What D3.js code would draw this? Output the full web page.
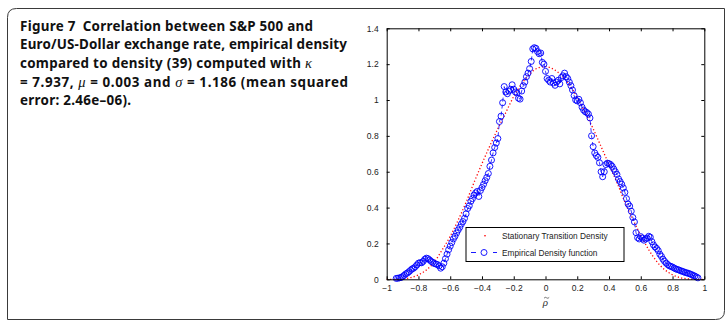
<!DOCTYPE html>
<html>
<head>
<meta charset="utf-8">
<script src="https://cdn.jsdelivr.net/npm/d3@7"></script>
<style>
  html, body { margin: 0; padding: 0; background: #fff; }
  svg { display: block; }
  .caption { font-family: "Noto Sans", sans-serif; font-weight: 700; font-size: 13.4px; fill: #111; }
  .greek { font-family: "Liberation Serif", serif; font-style: italic; font-weight: 400; }
  .axis text { font-family: "Liberation Sans", Arial, sans-serif; font-size: 8.5px; fill: #222; }
  .axis path, .axis line { stroke: #000; stroke-width: 1; }
  .legend text { font-family: "Liberation Sans", Arial, sans-serif; font-size: 8.3px; fill: #222; }
</style>
</head>
<body>
<svg id="chart" width="727" height="326"></svg>
<script>
// caption lines, each with the width it takes in the figure
const captionLines = [
  [['Figure 7\u2002Correlation between S&P 500 and', false]],
  [['Euro/US-Dollar exchange rate, empirical density', false]],
  [['compared to density (39) computed with ', false], ['\u03ba', true]],
  [['= 7.937, ', false], ['\u03bc', true], [' = 0.003 and ', false], ['\u03c3', true], [' = 1.186 (mean squared', false]],
  [['error: 2.46e\u201306).', false]],
]
const captionWidths = [293, 327, 292, 328, 111]

const xTicks = [-1, -0.8, -0.6, -0.4, -0.2, 0, 0.2, 0.4, 0.6, 0.8, 1]
const xTickLabels = ['\u22121', '\u22120.8', '\u22120.6', '\u22120.4', '\u22120.2', '0', '0.2', '0.4', '0.6', '0.8', '1']
const yTicks = [0, 0.2, 0.4, 0.6, 0.8, 1, 1.2, 1.4]
const yTickLabels = ['0', '0.2', '0.4', '0.6', '0.8', '1', '1.2', '1.4']

const legendLabels = ['Stationary Transition Density', 'Empirical Density function']

// fitted density (39)
const fitRho = [
  -1, -0.95, -0.9, -0.85, -0.8, -0.75, -0.7, -0.65, -0.6, -0.55, -0.5,
  -0.45, -0.4, -0.35, -0.3, -0.25, -0.2, -0.15, -0.1, -0.05, 0,
  0.05, 0.1, 0.15, 0.2, 0.25, 0.3, 0.35, 0.4, 0.45, 0.5,
  0.55, 0.6, 0.65, 0.7, 0.75, 0.8, 0.85, 0.9, 0.95, 1,
]
const fitDensity = [
  0, 0, 0.002, 0.009, 0.025, 0.052, 0.097, 0.165, 0.24, 0.33, 0.43,
  0.54, 0.645, 0.745, 0.84, 0.93, 1.02, 1.09, 1.145, 1.178, 1.186,
  1.172, 1.138, 1.085, 1.015, 0.93, 0.84, 0.74, 0.64, 0.54, 0.43,
  0.335, 0.245, 0.165, 0.1, 0.054, 0.025, 0.009, 0.002, 0, 0,
]

// empirical density
const empRho = [
  -0.94, -0.93, -0.92, -0.91, -0.90, -0.89, -0.88, -0.87, -0.86, -0.85,
  -0.84, -0.83, -0.82, -0.81, -0.80, -0.79, -0.78, -0.77, -0.76, -0.75,
  -0.74, -0.73, -0.72, -0.71, -0.70, -0.69, -0.68, -0.67, -0.66, -0.65,
  -0.64, -0.63, -0.62, -0.61, -0.60, -0.59, -0.58, -0.57, -0.56, -0.55,
  -0.54, -0.53, -0.52, -0.51, -0.50, -0.49, -0.48, -0.47, -0.46, -0.45,
  -0.44, -0.43, -0.42, -0.41, -0.40, -0.39, -0.38, -0.37, -0.36, -0.35,
  -0.34, -0.33, -0.32, -0.31, -0.30, -0.29, -0.28, -0.27, -0.26, -0.25,
  -0.24, -0.23, -0.22, -0.21, -0.20, -0.19, -0.18, -0.17, -0.16, -0.15,
  -0.14, -0.13, -0.12, -0.11, -0.10, -0.09, -0.08, -0.07, -0.06, -0.05,
  -0.04, -0.03, -0.02, -0.01, 0.00, 0.01, 0.02, 0.03, 0.04, 0.05,
  0.06, 0.07, 0.08, 0.09, 0.10, 0.11, 0.12, 0.13, 0.14, 0.15,
  0.16, 0.17, 0.18, 0.19, 0.20, 0.21, 0.22, 0.23, 0.24, 0.25,
  0.26, 0.27, 0.28, 0.29, 0.30, 0.31, 0.32, 0.33, 0.34, 0.35,
  0.36, 0.37, 0.38, 0.39, 0.40, 0.41, 0.42, 0.43, 0.44, 0.45,
  0.46, 0.47, 0.48, 0.49, 0.50, 0.51, 0.52, 0.53, 0.54, 0.55,
  0.56, 0.57, 0.58, 0.59, 0.60, 0.61, 0.62, 0.63, 0.64, 0.65,
  0.66, 0.67, 0.68, 0.69, 0.70, 0.71, 0.72, 0.73, 0.74, 0.75,
  0.76, 0.77, 0.78, 0.79, 0.80, 0.81, 0.82, 0.83, 0.84, 0.85,
  0.86, 0.87, 0.88, 0.89, 0.90, 0.91, 0.92, 0.93, 0.94, 0.95,
  0.96,
]
const empDensity = [
  0.005, 0.006, 0.008, 0.010, 0.015, 0.022, 0.030, 0.035, 0.042, 0.050,
  0.058, 0.062, 0.070, 0.080, 0.090, 0.093, 0.092, 0.100, 0.112, 0.118,
  0.115, 0.108, 0.100, 0.095, 0.088, 0.085, 0.082, 0.075, 0.062, 0.070,
  0.090, 0.115, 0.140, 0.165, 0.185, 0.205, 0.225, 0.240, 0.258, 0.275,
  0.290, 0.308, 0.322, 0.340, 0.365, 0.395, 0.410, 0.435, 0.450, 0.470,
  0.482, 0.490, 0.462, 0.495, 0.512, 0.530, 0.550, 0.568, 0.590, 0.630,
  0.665, 0.705, 0.735, 0.760, 0.785, 0.880, 0.910, 0.985, 1.075, 1.045,
  1.035, 1.050, 1.060, 1.085, 1.060, 1.045, 1.040, 1.010, 1.005, 1.050,
  1.080, 1.100, 1.130, 1.150, 1.175, 1.215, 1.285, 1.292, 1.288, 1.270,
  1.258, 1.262, 1.210, 1.200, 1.160, 1.120, 1.110, 1.100, 1.120, 1.095,
  1.082, 1.100, 1.110, 1.090, 1.125, 1.135, 1.150, 1.130, 1.120, 1.100,
  1.080, 1.056, 1.025, 1.000, 0.995, 1.004, 0.985, 0.960, 0.944, 0.935,
  0.930, 0.922, 0.900, 0.800, 0.740, 0.705, 0.690, 0.680, 0.650, 0.600,
  0.572, 0.600, 0.640, 0.648, 0.645, 0.640, 0.630, 0.615, 0.600, 0.585,
  0.560, 0.545, 0.530, 0.510, 0.485, 0.450, 0.420, 0.408, 0.380, 0.345,
  0.320, 0.260, 0.232, 0.225, 0.238, 0.230, 0.218, 0.225, 0.230, 0.240,
  0.235, 0.210, 0.192, 0.180, 0.172, 0.160, 0.140, 0.128, 0.112, 0.100,
  0.090, 0.082, 0.075, 0.072, 0.068, 0.063, 0.058, 0.055, 0.052, 0.048,
  0.045, 0.042, 0.038, 0.036, 0.033, 0.030, 0.026, 0.022, 0.018, 0.013,
  0.008,
]

const svg = d3.select('#chart')

// figure frame, rounded at top-left and bottom-right
const fl = 7.5, ft = 8.5, fr = 724.5, fb = 319.5, rad = 9
svg.append('path')
  .attr('d', `M${fl},${fb} L${fl},${ft + rad} Q${fl},${ft} ${fl + rad},${ft} L${fr},${ft} L${fr},${fb - rad} Q${fr},${fb} ${fr - rad},${fb} Z`)
  .attr('fill', 'none')
  .attr('stroke', '#3a3a3a')
  .attr('stroke-width', 1)

// caption
const cap = svg.append('g').attr('class', 'caption')
captionLines.forEach((parts, i) => {
  const t = cap.append('text')
    .attr('x', 20)
    .attr('y', 30.7 + i * 18.6)
    .attr('textLength', captionWidths[i])
    .attr('lengthAdjust', 'spacing')
  parts.forEach(([s, isGreek]) => {
    const ts = t.append('tspan').text(s)
    if (isGreek) ts.attr('class', 'greek').style('font-size', '14.5px')
  })
})

// plot area
const plot = {left: 386.7, right: 704.3, top: 28.3, bottom: 279.3}
const x = d3.scaleLinear().domain([-1, 1]).range([plot.left, plot.right])
const y = d3.scaleLinear().domain([0, 1.4]).range([plot.bottom, plot.top])

// red dotted fitted density
const fitLine = d3.line()
  .x((d, i) => x(fitRho[i]))
  .y((d) => y(d))
  .curve(d3.curveMonotoneX)
svg.append('path')
  .datum(fitDensity)
  .attr('d', fitLine)
  .attr('fill', 'none')
  .attr('stroke', '#ff0000')
  .attr('stroke-width', 1.3)
  .attr('stroke-dasharray', '1.2,2.2')

// blue empirical density
const empLine = d3.line()
  .x((d, i) => x(empRho[i]))
  .y((d) => y(d))
svg.append('path')
  .datum(empDensity)
  .attr('d', empLine)
  .attr('fill', 'none')
  .attr('stroke', '#0000ff')
  .attr('stroke-width', 0.8)
  .attr('stroke-dasharray', '4,3')

svg.append('g')
  .selectAll('circle')
  .data(empDensity)
  .enter()
  .append('circle')
  .attr('cx', (d, i) => x(empRho[i]))
  .attr('cy', (d) => y(d))
  .attr('r', 3)
  .attr('fill', 'none')
  .attr('stroke', '#0000ff')
  .attr('stroke-width', 0.9)

// axes, ticks pointing inward on all four sides
svg.append('g')
  .attr('class', 'axis')
  .attr('transform', `translate(0, ${plot.bottom})`)
  .call(d3.axisBottom(x).tickValues(xTicks).tickSizeInner(-3).tickSizeOuter(0).tickPadding(6)
    .tickFormat((d, i) => xTickLabels[i]))
svg.append('g')
  .attr('class', 'axis')
  .attr('transform', `translate(0, ${plot.top})`)
  .call(d3.axisTop(x).tickValues(xTicks).tickSizeInner(-3).tickSizeOuter(0).tickFormat(''))
svg.append('g')
  .attr('class', 'axis')
  .attr('transform', `translate(${plot.left}, 0)`)
  .call(d3.axisLeft(y).tickValues(yTicks).tickSizeInner(-3).tickSizeOuter(0).tickPadding(8)
    .tickFormat((d, i) => yTickLabels[i]))
svg.append('g')
  .attr('class', 'axis')
  .attr('transform', `translate(${plot.right}, 0)`)
  .call(d3.axisRight(y).tickValues(yTicks).tickSizeInner(-3).tickSizeOuter(0).tickFormat(''))

// x label: rho with a small tilde drawn above it
const lx = x(0)
svg.append('text')
  .attr('x', lx)
  .attr('y', 306)
  .attr('text-anchor', 'middle')
  .style('font-family', '"Liberation Serif", serif')
  .style('font-style', 'italic')
  .style('font-size', '11px')
  .style('fill', '#333')
  .text('\u03c1')
svg.append('path')
  .attr('d', `M${lx - 1.5},${298.2} q1.2,-1.6 2.6,-0.4 t2.6,-0.4`)
  .attr('fill', 'none')
  .attr('stroke', '#444')
  .attr('stroke-width', 0.7)

// legend
const lg = svg.append('g').attr('class', 'legend')
lg.append('rect')
  .attr('x', 466).attr('y', 227.5).attr('width', 158).attr('height', 34)
  .attr('fill', '#fff').attr('stroke', '#000').attr('stroke-width', 1)
lg.append('rect')
  .attr('x', 484.3).attr('y', 235).attr('width', 1.4).attr('height', 1.4)
  .attr('fill', '#ff0000')
lg.append('line')
  .attr('x1', 471).attr('x2', 497).attr('y1', 252.5).attr('y2', 252.5)
  .attr('stroke', '#0000ff').attr('stroke-width', 0.9).attr('stroke-dasharray', '5,17')
lg.append('circle')
  .attr('cx', 484).attr('cy', 252.5).attr('r', 3)
  .attr('fill', 'none').attr('stroke', '#0000ff').attr('stroke-width', 0.9)
legendLabels.forEach((label, i) => {
  lg.append('text').attr('x', 502).attr('y', 238.8 + i * 16.7).text(label)
})
</script>
</body>
</html>
